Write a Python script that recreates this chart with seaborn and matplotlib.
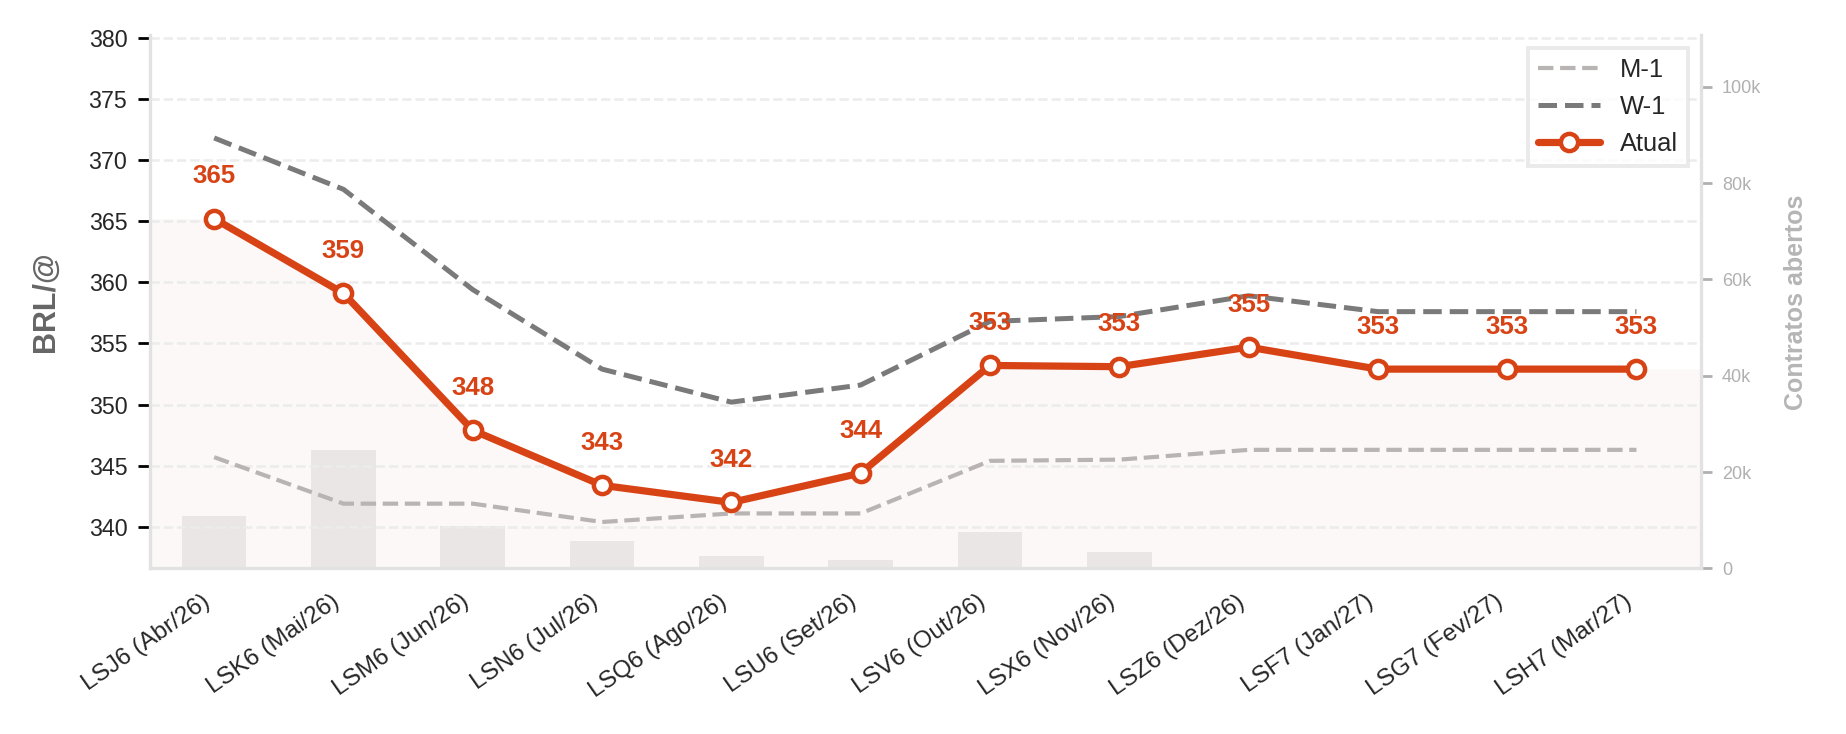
import numpy as np
import pandas as pd
import seaborn as sns
import matplotlib.pyplot as plt
from matplotlib.ticker import FuncFormatter

# values
contratos = ['LSJ6 (Abr/26)', 'LSK6 (Mai/26)', 'LSM6 (Jun/26)', 'LSN6 (Jul/26)',
             'LSQ6 (Ago/26)', 'LSU6 (Set/26)', 'LSV6 (Out/26)', 'LSX6 (Nov/26)',
             'LSZ6 (Dez/26)', 'LSF7 (Jan/27)', 'LSG7 (Fev/27)', 'LSH7 (Mar/27)']
atual = [365.2, 359.1, 347.9, 343.4, 342.0, 344.4, 353.2, 353.1, 354.7, 352.9, 352.9, 352.9]
w1 = [371.8, 367.6, 359.4, 352.9, 350.2, 351.6, 356.8, 357.2, 358.9, 357.6, 357.6, 357.6]
m1 = [345.7, 341.9, 341.9, 340.4, 341.1, 341.1, 345.4, 345.5, 346.3, 346.3, 346.3, 346.3]
contratos_abertos = [10800, 24600, 8800, 5700, 2500, 1800, 7600, 3500, 0, 0, 0, 0]

sns.set_style('white')
plt.rcParams['font.family'] = ['Liberation Sans', 'DejaVu Sans']

cor_atual = '#d84315'
pos = np.arange(len(contratos))
df = pd.DataFrame({'pos': pos, 'contrato': contratos, 'atual': atual,
                   'w1': w1, 'm1': m1, 'oi': contratos_abertos})

fig = plt.figure(figsize=(9.23, 3.67), dpi=200)
ax = fig.add_subplot(111)
fig.subplots_adjust(left=0.081, right=0.9215, top=0.952, bottom=0.2255)
ax2 = ax.twinx()

# pale fill under the current curve (in price units, drawn behind the bars)
xf = np.concatenate([[-0.5], pos, [len(pos) - 0.5]])
yf = np.concatenate([[atual[0]], atual, [atual[-1]]])
ax2.fill_between(xf, yf, 330, color='#fcf8f7', zorder=0, linewidth=0,
                 transform=ax.transData)

# open interest bars on the secondary axis
ax2.bar(df['pos'], df['oi'], width=0.5, color='#e9e6e5', linewidth=0, zorder=1)
ax2.set_ylim(0, max(contratos_abertos) * 4.5)
ax2.yaxis.set_major_formatter(FuncFormatter(lambda v, p: '0' if v == 0 else f'{v/1000:.0f}k'))
ax2.set_ylabel('Contratos abertos', fontsize=9, fontweight='bold', color='#b5b5b5', labelpad=8)
ax2.tick_params(axis='y', colors='#b0b0b0', labelsize=6.5, length=4, width=1)
for s in ['top', 'left', 'bottom']:
    ax2.spines[s].set_visible(False)
ax2.spines['right'].set_color('#e2e2e2')
ax2.spines['right'].set_linewidth(1.2)

ax.set_zorder(ax2.get_zorder() + 1)
ax.patch.set_visible(False)

sns.lineplot(data=df, x='pos', y='m1', ax=ax, color='#b8b4b4', linewidth=1.5,
             linestyle='--', label='M-1', zorder=3)
sns.lineplot(data=df, x='pos', y='w1', ax=ax, color='#7a7a7a', linewidth=1.8,
             linestyle='--', label='W-1', zorder=3)
sns.lineplot(data=df, x='pos', y='atual', ax=ax, color=cor_atual, linewidth=2.6,
             marker='o', markersize=6.2, markerfacecolor='white',
             markeredgecolor=cor_atual, markeredgewidth=1.6, label='Atual', zorder=4)

for x, y in zip(pos, atual):
    ax.annotate(f'{y:.0f}', (x, y), xytext=(0, 11), textcoords='offset points',
                ha='center', va='bottom', fontsize=9.3, fontweight='bold',
                color=cor_atual, zorder=5)

ax.set_xlim(-0.5, len(pos) - 0.5)
ax.set_ylim(336.6, 380.2)
ax.set_yticks(np.arange(340, 381, 5))
ax.set_xticks(pos)
ax.set_xticklabels(contratos, rotation=35, ha='right', fontsize=8.8)
ax.tick_params(axis='y', labelsize=8.4, length=4.5, width=1, color='black')
ax.tick_params(axis='x', length=4.5, width=1, color='black')
ax.set_xlabel('')
ax.set_ylabel('BRL/@', fontsize=11, fontweight='bold', color='#666666', labelpad=10)
ax.yaxis.grid(True, linestyle='--', color='#ececec', linewidth=0.9)
ax.set_axisbelow(True)
for s in ['top', 'right']:
    ax.spines[s].set_visible(False)
for s in ['left', 'bottom']:
    ax.spines[s].set_color('#e2e2e2')
    ax.spines[s].set_linewidth(1.2)

leg = ax.legend(loc='upper right', fontsize=9.2, frameon=True, fancybox=False,
                borderaxespad=0.5, handlelength=2.4)
leg.get_frame().set_edgecolor('#e5e5e5')
leg.get_frame().set_linewidth(1.4)

plt.savefig('out.png', dpi=200)
